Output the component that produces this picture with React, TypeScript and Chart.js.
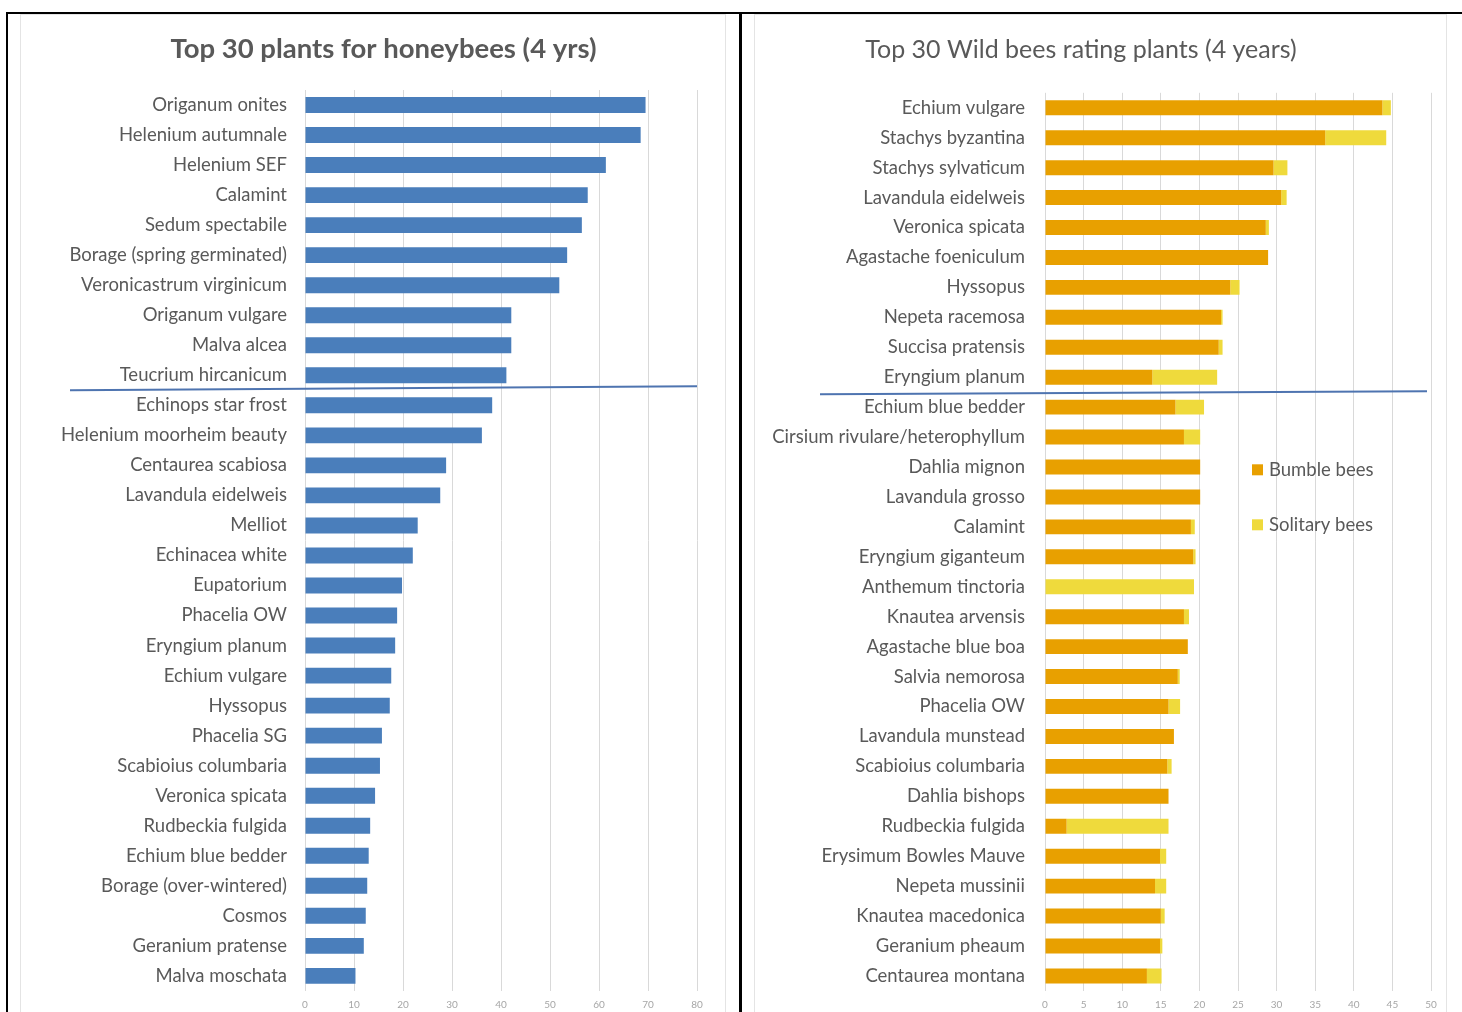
import React, { useEffect, useRef } from "react";
import { Chart, registerables } from "chart.js";

Chart.register(...registerables);

const honeyTitle = "Top 30 plants for honeybees (4 yrs)";
const honeyPlants = [
  "Origanum onites", "Helenium autumnale", "Helenium SEF", "Calamint", "Sedum spectabile",
  "Borage (spring germinated)", "Veronicastrum virginicum", "Origanum vulgare", "Malva alcea",
  "Teucrium hircanicum", "Echinops star frost", "Helenium moorheim beauty", "Centaurea scabiosa",
  "Lavandula eidelweis", "Melliot", "Echinacea white", "Eupatorium", "Phacelia OW",
  "Eryngium planum", "Echium vulgare", "Hyssopus", "Phacelia SG", "Scabioius columbaria",
  "Veronica spicata", "Rudbeckia fulgida", "Echium blue bedder", "Borage (over-wintered)",
  "Cosmos", "Geranium pratense", "Malva moschata",
];
const honeyValues = [
  69.5, 68.5, 61.4, 57.7, 56.5, 53.5, 51.9, 42.1, 42.1, 41.1, 38.2, 36.1, 28.8, 27.6, 23.0,
  22.0, 19.8, 18.8, 18.4, 17.6, 17.3, 15.7, 15.3, 14.3, 13.3, 13.0, 12.7, 12.4, 12.0, 10.3,
];
const honeyTicks = { min: 0, max: 80, step: 10 };

const wildTitle = "Top 30 Wild bees rating plants (4 years)";
const wildPlants = [
  "Echium vulgare", "Stachys byzantina", "Stachys sylvaticum", "Lavandula eidelweis",
  "Veronica spicata", "Agastache foeniculum", "Hyssopus", "Nepeta racemosa", "Succisa pratensis",
  "Eryngium planum", "Echium blue bedder", "Cirsium rivulare/heterophyllum", "Dahlia mignon",
  "Lavandula grosso", "Calamint", "Eryngium giganteum", "Anthemum tinctoria", "Knautea arvensis",
  "Agastache blue boa", "Salvia nemorosa", "Phacelia OW", "Lavandula munstead",
  "Scabioius columbaria", "Dahlia bishops", "Rudbeckia fulgida", "Erysimum Bowles Mauve",
  "Nepeta mussinii", "Knautea macedonica", "Geranium pheaum", "Centaurea montana",
];
const bumbleBees = [
  43.7, 36.3, 29.6, 30.6, 28.6, 28.9, 24.0, 22.8, 22.5, 13.9, 16.9, 18.0, 20.1, 20.1, 18.9,
  19.2, 0, 18.0, 18.5, 17.2, 16.0, 16.7, 15.85, 16.0, 2.8, 14.9, 14.25, 15.0, 14.9, 13.2,
];
const solitaryBees = [
  1.1, 7.9, 1.8, 0.7, 0.4, 0, 1.2, 0.2, 0.5, 8.4, 3.7, 2.1, 0, 0, 0.5,
  0.3, 19.3, 0.65, 0, 0.25, 1.5, 0, 0.55, 0, 13.2, 0.8, 1.45, 0.5, 0.3, 1.9,
];
const wildSeries = ["Bumble bees", "Solitary bees"];
const wildTicks = { min: 0, max: 50, step: 5 };

const BLUE = "#4a7ebb";
const ORANGE = "#e8a000";
const YELLOW = "#efda3c";
const LINE = "#4e74b0";
const TEXT = "#595959";
const GRID = "#d9d9d9";
const FONT = "Lato, 'Open Sans', sans-serif";

const separatorPlugin = {
  id: "separator",
  afterDatasetsDraw(chart: any, _args: any, opts: any) {
    const y = chart.scales.y;
    const area = chart.chartArea;
    const mid = (y.getPixelForValue(opts.after) + y.getPixelForValue(opts.after + 1)) / 2;
    const ctx = chart.ctx;
    ctx.save();
    ctx.strokeStyle = LINE;
    ctx.lineWidth = 2;
    ctx.beginPath();
    ctx.moveTo(area.left - opts.leftReach, mid + opts.dyLeft);
    ctx.lineTo(area.right - opts.rightInset, mid + opts.dyRight);
    ctx.stroke();
    ctx.restore();
  },
};

const boxLegendPlugin = {
  id: "boxLegend",
  afterDraw(chart: any, _args: any, opts: any) {
    if (!opts || !opts.items) return;
    const area = chart.chartArea;
    const ctx = chart.ctx;
    ctx.save();
    ctx.font = `18.5px ${FONT}`;
    ctx.textBaseline = "middle";
    ctx.textAlign = "left";
    opts.items.forEach((it: any, i: number) => {
      const cx = area.left + opts.dx;
      const cy = area.top + opts.dy + i * opts.gap;
      ctx.fillStyle = it.color;
      ctx.fillRect(cx, cy - 5.5, 11, 11);
      ctx.fillStyle = TEXT;
      ctx.fillText(it.label, cx + 17, cy);
    });
    ctx.restore();
  },
};

function makeOptions(cfg: any) {
  return {
    indexAxis: "y" as const,
    responsive: false,
    animation: false as const,
    devicePixelRatio: 1,
    layout: { padding: { left: cfg.padLeft, right: cfg.padRight, top: 0, bottom: 0 } },
    plugins: {
      legend: { display: false },
      tooltip: { enabled: false },
      title: {
        display: true,
        text: cfg.title,
        color: TEXT,
        font: { family: FONT, size: cfg.titleSize, weight: cfg.titleWeight, lineHeight: 1.2 },
        padding: { top: cfg.titleTop, bottom: cfg.titleBottom },
      },
      separator: cfg.separator,
      boxLegend: cfg.legend,
    },
    scales: {
      x: {
        stacked: cfg.stacked,
        min: cfg.ticks.min,
        max: cfg.ticks.max,
        border: { display: false },
        grid: { color: GRID, lineWidth: 1, drawTicks: false },
        ticks: {
          stepSize: cfg.ticks.step,
          padding: 8,
          color: "#a6a6a6",
          font: { family: FONT, size: 10 },
        },
        afterFit(scale: any) {
          scale.height = cfg.xHeight;
        },
      },
      y: {
        stacked: cfg.stacked,
        border: { display: false },
        grid: { display: false, drawTicks: false },
        ticks: {
          padding: cfg.labelGap,
          color: TEXT,
          autoSkip: false,
          font: { family: FONT, size: 18.5 },
        },
        afterFit(scale: any) {
          scale.width = cfg.yWidth;
          // let long category labels extend left of the axis box without clipping
          scale._computeLabelArea = () => undefined;
        },
      },
    },
  };
}

function ChartCanvas({ config, style, width, height }: any) {
  const ref = useRef<HTMLCanvasElement | null>(null);
  useEffect(() => {
    if (!ref.current) return;
    const chart = new Chart(ref.current, config);
    return () => chart.destroy();
  }, []);
  return <canvas ref={ref} width={width} height={height} style={{ position: "absolute", width, height, ...style }} />;
}

export default function App() {
  const honeyConfig: any = {
    type: "bar",
    data: {
      labels: honeyPlants,
      datasets: [
        {
          label: "Honeybees",
          data: honeyValues,
          backgroundColor: BLUE,
          barPercentage: 0.53,
          categoryPercentage: 1,
        },
      ],
    },
    options: makeOptions({
      title: honeyTitle,
      titleSize: 27.5,
      titleWeight: "bold",
      titleTop: 18.5,
      titleBottom: 24.5,
      padLeft: 50,
      padRight: 30,
      yWidth: 235,
      xHeight: 21,
      labelGap: 18,
      stacked: false,
      ticks: honeyTicks,
      separator: { after: 9, leftReach: 235, rightInset: 0, dyLeft: 0, dyRight: -4 },
      legend: null,
    }),
    plugins: [separatorPlugin, boxLegendPlugin],
  };

  const wildConfig: any = {
    type: "bar",
    data: {
      labels: wildPlants,
      datasets: [
        {
          label: wildSeries[0],
          data: bumbleBees,
          backgroundColor: ORANGE,
          barPercentage: 0.5,
          categoryPercentage: 1,
        },
        {
          label: wildSeries[1],
          data: solitaryBees,
          backgroundColor: YELLOW,
          barPercentage: 0.5,
          categoryPercentage: 1,
        },
      ],
    },
    options: makeOptions({
      title: wildTitle,
      titleSize: 25,
      titleWeight: "normal",
      titleTop: 21,
      titleBottom: 27.8,
      padLeft: -11,
      padRight: 15,
      yWidth: 314,
      xHeight: 22,
      labelGap: 20,
      stacked: true,
      ticks: wildTicks,
      separator: { after: 9, leftReach: 225, rightInset: 4, dyLeft: 2, dyRight: -1 },
      legend: {
        dx: 207,
        dy: 377,
        gap: 55,
        items: [
          { label: wildSeries[0], color: ORANGE },
          { label: wildSeries[1], color: YELLOW },
        ],
      },
    }),
    plugins: [separatorPlugin, boxLegendPlugin],
  };

  return (
    <div
      style={{
        position: "fixed",
        left: 0,
        top: 0,
        width: 1462,
        height: 1012,
        overflow: "hidden",
        background: "#ffffff",
      }}
    >
      {/* light chart frames */}
      <div style={{ position: "absolute", left: 20, top: 14, width: 706, height: 1010, border: "1px solid #e4e4e4", boxSizing: "border-box" }} />
      <div style={{ position: "absolute", left: 754, top: 14, width: 693, height: 1010, border: "1px solid #e4e4e4", boxSizing: "border-box" }} />
      <ChartCanvas config={honeyConfig} width={707} height={1006} style={{ left: 20, top: 14 }} />
      <ChartCanvas config={wildConfig} width={704} height={1008} style={{ left: 742, top: 14 }} />
      {/* black page frame lines */}
      <div style={{ position: "absolute", left: 6, top: 12, width: 1456, height: 2, background: "#000" }} />
      <div style={{ position: "absolute", left: 6, top: 12, width: 2, height: 1000, background: "#000" }} />
      <div style={{ position: "absolute", left: 739, top: 12, width: 3, height: 1000, background: "#000" }} />
    </div>
  );
}
